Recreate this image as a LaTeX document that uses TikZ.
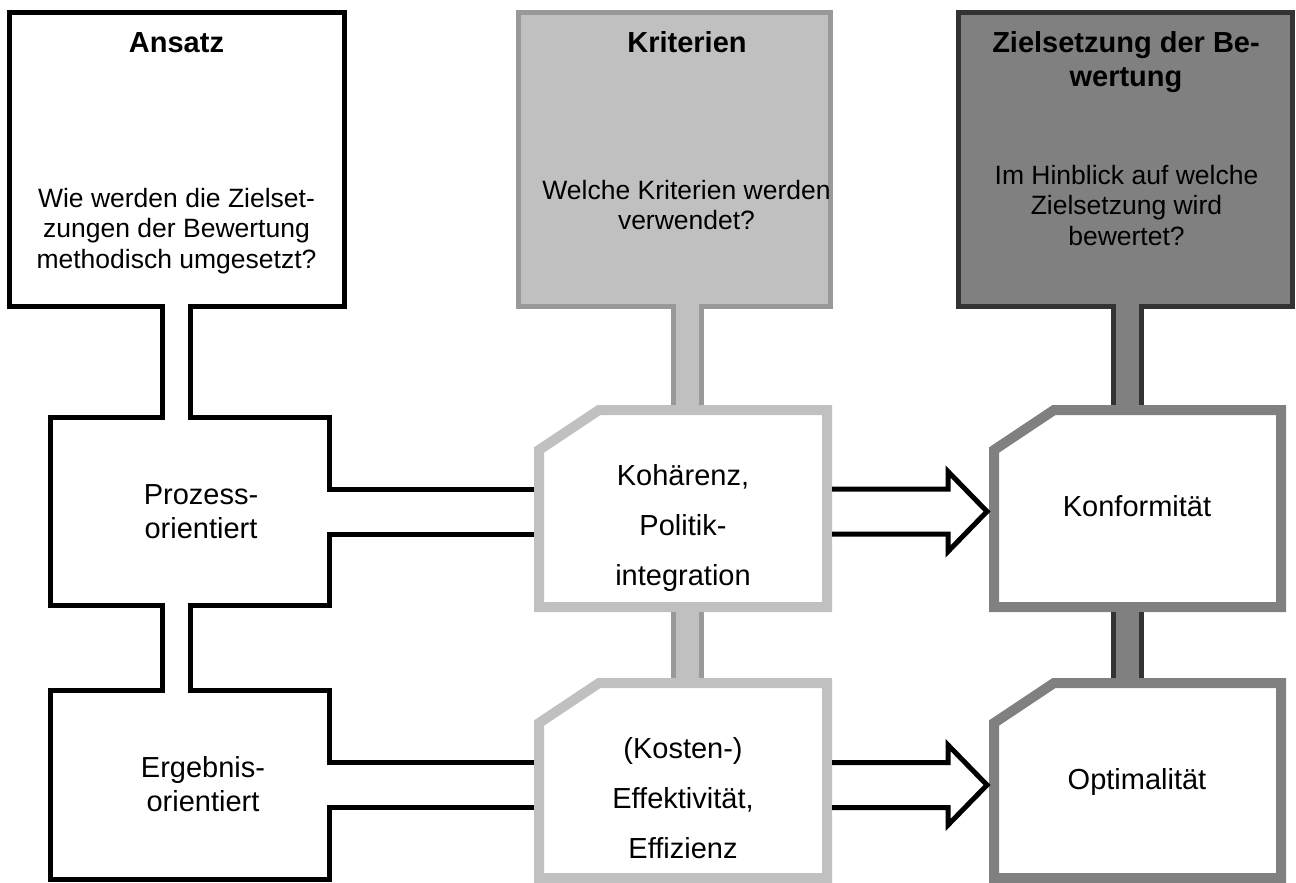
\documentclass[tikz,border=0pt]{standalone}
\usepackage{fontspec}
\setmainfont{Liberation Sans}
\usetikzlibrary{calc}
\definecolor{lgrey}{HTML}{C0C0C0}
\definecolor{mgrey}{HTML}{999999}
\definecolor{dgrey}{HTML}{808080}
\definecolor{vdgrey}{HTML}{333333}
\newcommand{\mlines}[1]{\begin{tabular}[t]{@{}c@{}}#1\end{tabular}}
\newcommand{\chamfbox}[2]{\draw[#1] (#2.south west) -- ($(#2.north west)+(0,40)$) -- ($(#2.north west)+(60,0)$) -- (#2.north east) -- (#2.south east) -- cycle;}
\begin{document}
\begin{tikzpicture}[x=1pt,y=-1pt,
  area/.style={rectangle, inner sep=0pt, outer sep=0pt},
  blackbox/.style={area, draw=black, fill=white, line width=5pt},
  lgbox/.style={area, draw=mgrey, fill=lgrey, line width=5pt},
  dgbox/.style={area, draw=vdgrey, fill=dgrey, line width=5pt},
  lgframe/.style={draw=lgrey, fill=white, line width=10pt, line join=miter},
  dgframe/.style={draw=dgrey, fill=white, line width=10pt, line join=miter},
  ttl/.style={anchor=base, inner sep=0pt, font={\fontsize{29}{34}\selectfont\bfseries}},
  qtxt/.style={anchor=base, inner sep=0pt, font={\fontsize{26.5}{30.5}\selectfont}},
  ltxt/.style={anchor=base, inner sep=0pt, font={\fontsize{29}{34}\selectfont}},
  mtxt/.style={anchor=base, inner sep=0pt, font={\fontsize{29}{50}\selectfont}},
  stemline/.style={line width=5pt},
  arrowline/.style={draw=black, line width=5pt, line join=miter},
]
\useasboundingbox (0,0) rectangle (1296,883);

% boxes
\node[blackbox, minimum width=335pt, minimum height=294pt] (ansatz) at (177,159.5) {};
\node[lgbox, minimum width=312pt, minimum height=294pt] (krit) at (674.5,159.5) {};
\node[dgbox, minimum width=334pt, minimum height=294pt] (ziel) at (1125.5,159.5) {};
\node[blackbox, minimum width=279pt, minimum height=188pt] (proz) at (190,511.5) {};
\node[blackbox, minimum width=279pt, minimum height=189pt] (erg) at (190,785) {};
\node[area, minimum width=288pt, minimum height=197pt] (koh) at (683,508.5) {};
\node[area, minimum width=288pt, minimum height=195pt] (eff) at (683,780.5) {};
\node[area, minimum width=287pt, minimum height=197pt] (konf) at (1137.5,508.5) {};
\node[area, minimum width=287pt, minimum height=195pt] (opt) at (1137.5,780.5) {};
\chamfbox{lgframe}{koh}
\chamfbox{lgframe}{eff}
\chamfbox{dgframe}{konf}
\chamfbox{dgframe}{opt}

% stem centres
\coordinate (s1) at ($(ansatz.south)+(-0.5,0)$);
\coordinate (s3) at ($(krit.south)+(12.5,0)$);
\coordinate (s5) at ($(ziel.south)+(1.5,0)$);

% black stems
\fill[white] ($(s1)+(-11.5,-2.5)$) rectangle ($(s1 |- proz.north)+(11.5,2.5)$);
\draw[stemline,black] ($(s1)+(-14,2.5)$) -- ($(s1 |- proz.north)+(-14,-2.5)$);
\draw[stemline,black] ($(s1)+(14,2.5)$) -- ($(s1 |- proz.north)+(14,-2.5)$);
\fill[white] ($(s1 |- proz.south)+(-11.5,-2.5)$) rectangle ($(s1 |- erg.north)+(11.5,2.5)$);
\draw[stemline,black] ($(s1 |- proz.south)+(-14,2.5)$) -- ($(s1 |- erg.north)+(-14,-2.5)$);
\draw[stemline,black] ($(s1 |- proz.south)+(14,2.5)$) -- ($(s1 |- erg.north)+(14,-2.5)$);

% light grey stems
\fill[lgrey] ($(s3)+(-11.5,-2.5)$) rectangle ($(s3 |- koh.north)+(11.5,5)$);
\draw[stemline,mgrey] ($(s3)+(-14,2.5)$) -- ($(s3 |- koh.north)+(-14,-5)$);
\draw[stemline,mgrey] ($(s3)+(14,2.5)$) -- ($(s3 |- koh.north)+(14,-5)$);
\fill[lgrey] ($(s3 |- koh.south)+(-11.5,-5)$) rectangle ($(s3 |- eff.north)+(11.5,5)$);
\draw[stemline,mgrey] ($(s3 |- koh.south)+(-14,5)$) -- ($(s3 |- eff.north)+(-14,-5)$);
\draw[stemline,mgrey] ($(s3 |- koh.south)+(14,5)$) -- ($(s3 |- eff.north)+(14,-5)$);

% dark grey stems
\fill[dgrey] ($(s5)+(-11.5,-2.5)$) rectangle ($(s5 |- konf.north)+(11.5,5)$);
\draw[stemline,vdgrey] ($(s5)+(-14,2.5)$) -- ($(s5 |- konf.north)+(-14,-5)$);
\draw[stemline,vdgrey] ($(s5)+(14,2.5)$) -- ($(s5 |- konf.north)+(14,-5)$);
\fill[dgrey] ($(s5 |- konf.south)+(-11.5,-5)$) rectangle ($(s5 |- opt.north)+(11.5,5)$);
\draw[stemline,vdgrey] ($(s5 |- konf.south)+(-14,5)$) -- ($(s5 |- opt.north)+(-14,-5)$);
\draw[stemline,vdgrey] ($(s5 |- konf.south)+(14,5)$) -- ($(s5 |- opt.north)+(14,-5)$);

% channels from left boxes to middle boxes
\fill[white] ($(proz.east)+(-2.5,-20)$) rectangle ($(koh.west |- proz.east)+(-5,20)$);
\draw[stemline] ($(proz.east)+(2.5,-22.5)$) -- ($(koh.west |- proz.east)+(-5,-22.5)$);
\draw[stemline] ($(proz.east)+(2.5,22.5)$) -- ($(koh.west |- proz.east)+(-5,22.5)$);
\fill[white] ($(erg.east)+(-2.5,-20)$) rectangle ($(eff.west |- erg.east)+(-5,20)$);
\draw[stemline] ($(erg.east)+(2.5,-22.5)$) -- ($(eff.west |- erg.east)+(-5,-22.5)$);
\draw[stemline] ($(erg.east)+(2.5,22.5)$) -- ($(eff.west |- erg.east)+(-5,22.5)$);

% block arrows
\draw[arrowline] ($(koh.east |- proz.east)+(5,-22.5)$) -- ($(konf.west |- proz.east)+(-46,-22.5)$)
  -- ($(konf.west |- proz.east)+(-46,-40)$) -- ($(konf.west |- proz.east)+(-7,0)$)
  -- ($(konf.west |- proz.east)+(-46,40)$) -- ($(konf.west |- proz.east)+(-46,22.5)$)
  -- ($(koh.east |- proz.east)+(5,22.5)$);
\draw[arrowline] ($(eff.east |- erg.east)+(5,-22.5)$) -- ($(opt.west |- erg.east)+(-46,-22.5)$)
  -- ($(opt.west |- erg.east)+(-46,-40)$) -- ($(opt.west |- erg.east)+(-7,0)$)
  -- ($(opt.west |- erg.east)+(-46,40)$) -- ($(opt.west |- erg.east)+(-46,22.5)$)
  -- ($(eff.east |- erg.east)+(5,22.5)$);

% texts
\node[ttl] (ansatzT) at (176.5,53) {Ansatz};
\node[qtxt] (ansatzQ) at (176.5,207) {\mlines{Wie werden die Zielset-\\zungen der Bewertung\\methodisch umgesetzt?}};
\node[ttl] (kritT) at (687,53) {Kriterien};
\node[qtxt] (kritQ) at (686.5,199) {\mlines{Welche Kriterien werden\\verwendet?}};
\node[ttl] (zielT) at (1126,53) {\mlines{Zielsetzung der Be-\\wertung}};
\node[qtxt] (zielQ) at (1126.5,184) {\mlines{Im Hinblick auf welche\\Zielsetzung wird\\bewertet?}};
\node[ltxt] (prozT) at (201,504) {\mlines{Prozess-\\orientiert}};
\node[ltxt] (ergT) at (203,777) {\mlines{Ergebnis-\\orientiert}};
\node[mtxt] (kohT) at (683,485) {\mlines{Kohärenz,\\Politik-\\integration}};
\node[mtxt] (effT) at (683,758) {\mlines{(Kosten-)\\Effektivität,\\Effizienz}};
\node[ltxt] (konfT) at (1137,516) {Konformität};
\node[ltxt] (optT) at (1137,789) {Optimalität};
\end{tikzpicture}
\end{document}
